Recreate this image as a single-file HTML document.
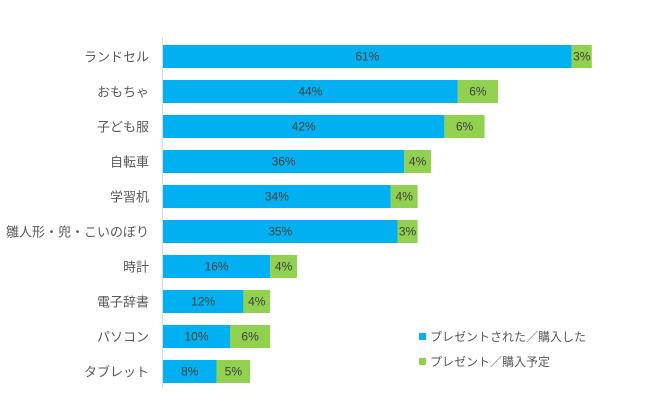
<!DOCTYPE html>
<html><head><meta charset="utf-8"><style>
body{margin:0;background:#fff;}
svg{display:block;font-family:"Liberation Sans","Noto Sans CJK JP",sans-serif;}
</style></head><body>
<svg id="chart" width="650" height="410" viewBox="0 0 650 410">
<line x1="162.5" y1="38" x2="162.5" y2="388" stroke="#d9d9d9" stroke-width="1"/>
<g id="bars"></g>
<g>
<rect x="419" y="333" width="7" height="7" fill="#00b0f0"/>
<text x="430" y="341" font-size="12" fill="#595959">プレゼントされた／購入した</text>
<rect x="419" y="358" width="7" height="7" fill="#92d050"/>
<text x="430" y="366" font-size="12" fill="#595959">プレゼント／購入予定</text>
</g>
</svg>
<script>
const categories = ["ランドセル","おもちゃ","子ども服","自転車","学習机","雛人形・兜・こいのぼり","時計","電子辞書","パソコン","タブレット"];
const purchased = [61,44,42,36,34,35,16,12,10,8];
const planned = [3,6,6,4,4,3,4,4,6,5];
const x0 = 163, pxPer = 6.7, top0 = 45, pitch = 35, barH = 23;
const xs = v => v * pxPer;
const ns = "http://www.w3.org/2000/svg";
const g = document.getElementById("bars");
function mk(tag, attrs){const e=document.createElementNS(ns,tag);for(const k in attrs)e.setAttribute(k,attrs[k]);return e;}
categories.forEach((c,i)=>{
  const y = top0 + i*pitch;
  const lab = mk("text",{x:149,y:y+barH/2+5,"font-size":13,fill:"#595959","text-anchor":"end"});
  
  
  lab.textContent = c; g.appendChild(lab);
  const w1 = xs(purchased[i]);
  const b1 = mk("rect",{x:x0,y:y,width:w1,height:barH,fill:"#00b0f0"});
  
  
  g.appendChild(b1);
  const w2 = xs(planned[i]);
  const b2 = mk("rect",{x:x0+w1,y:y,width:w2,height:barH,fill:"#92d050"});
  
  
  g.appendChild(b2);
  const t1 = mk("text",{x:x0+w1/2,y:y+barH/2+4,"font-size":12,fill:"#404040","text-anchor":"middle"});
  
  
  t1.textContent = purchased[i]+"%"; g.appendChild(t1);
  const t2 = mk("text",{x:x0+w1+w2/2,y:y+barH/2+4,"font-size":12,fill:"#404040","text-anchor":"middle"});
  
  
  t2.textContent = planned[i]+"%"; g.appendChild(t2);
});
</script>
</body></html>
